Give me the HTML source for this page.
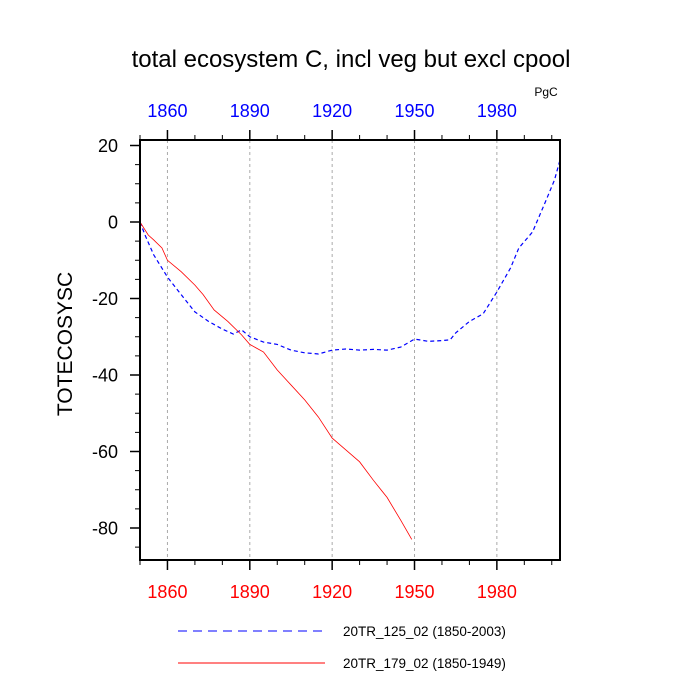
<!DOCTYPE html>
<html><head><meta charset="utf-8"><style>
body{margin:0;background:#fff}
svg{display:block;font-family:"Liberation Sans",sans-serif}
</style></head><body>
<svg id="c" width="700" height="700">
<text x="351" y="67" font-size="24" text-anchor="middle">total ecosystem C, incl veg but excl cpool</text>
<text x="546" y="96" font-size="12" text-anchor="middle">PgC</text>
<text transform="translate(72,344) rotate(-90)" font-size="21" text-anchor="middle">TOTECOSYSC</text>
<g id="grid"></g><g id="axes"></g><g id="series"></g>
<rect x="140" y="140" width="420" height="420" fill="none" stroke="#000" stroke-width="2"/>
<line x1="178" y1="631" x2="325" y2="631" stroke="#0000ff" stroke-dasharray="9,6"/>
<text x="343" y="636" font-size="13.5">20TR_125_02 (1850-2003)</text>
<line x1="178" y1="663" x2="325" y2="663" stroke="#ff0000"/>
<text x="343" y="668" font-size="13.5">20TR_179_02 (1850-1949)</text>
</svg>
<script>
const xTicks=[1860,1890,1920,1950,1980];
const yTicks=[20,0,-20,-40,-60,-80];
const blueYears=[1850,1852,1855,1860,1865,1870,1875,1880,1884,1887,1890,1895,1900,1905,1910,1915,1920,1925,1930,1935,1940,1945,1950,1955,1960,1963,1965,1970,1975,1980,1985,1988,1993,1998,2001,2003];
const blueVals=[0,-3.7,-8.6,-14.4,-19,-23.5,-26,-28,-29.3,-28.2,-30,-31.4,-32,-33.5,-34.2,-34.5,-33.5,-33.2,-33.5,-33.3,-33.5,-32.7,-30.6,-31.2,-31,-30.8,-29,-26,-24,-18.3,-12,-6.8,-2.6,5.8,11,16.2];
const redYears=[1850,1853,1855,1858,1860,1865,1870,1873,1877,1882,1887,1890,1895,1900,1905,1910,1915,1920,1925,1930,1935,1940,1945,1949];
const redVals=[0,-3.4,-4.7,-6.8,-10,-13,-16.5,-19,-23,-26,-29.5,-32,-34,-38.7,-42.6,-46.5,-51,-56.5,-59.6,-62.7,-67.5,-72,-78,-83];
const NS='http://www.w3.org/2000/svg';
const xs=y=>140+(y-1850)*420/153;
const ys=v=>222-v*3.825;
function mk(t,a,p){const e=document.createElementNS(NS,t);for(const k in a)e.setAttribute(k,a[k]);p.appendChild(e);return e;}
const grid=document.getElementById('grid'),axes=document.getElementById('axes'),ser=document.getElementById('series');
xTicks.forEach(t=>{
 const g=mk('line',{x1:xs(t),x2:xs(t),y1:140,y2:560,stroke:'#aaa','stroke-dasharray':'3,3'},grid);
 
 
 mk('line',{x1:xs(t),x2:xs(t),y1:140,y2:130,stroke:'#000','stroke-width':1.5},axes);
 mk('line',{x1:xs(t),x2:xs(t),y1:560,y2:570,stroke:'#000','stroke-width':1.5},axes);
 const a=mk('text',{x:xs(t),y:117,'font-size':18,fill:'#0000ff','text-anchor':'middle'},axes);a.textContent=t;
 
 
 const b=mk('text',{x:xs(t),y:598,'font-size':18,fill:'#ff0000','text-anchor':'middle'},axes);b.textContent=t;
 
 
});
for(let y=1850;y<=2003;y+=10){if(xTicks.includes(y))continue;
 mk('line',{x1:xs(y),x2:xs(y),y1:140,y2:135,stroke:'#000'},axes);
 mk('line',{x1:xs(y),x2:xs(y),y1:560,y2:565,stroke:'#000'},axes);}
yTicks.forEach(t=>{
 mk('line',{x1:140,x2:130,y1:ys(t),y2:ys(t),stroke:'#000','stroke-width':1.5},axes);
 const a=mk('text',{x:118,y:ys(t)+6.5,'font-size':18,'text-anchor':'end'},axes);a.textContent=t;
 
 
});
for(let v=-85;v<=20;v+=5){if(v%20==0)continue;mk('line',{x1:140,x2:135,y1:ys(v),y2:ys(v),stroke:'#000'},axes);}
const bp=mk('polyline',{points:blueYears.map((y,i)=>xs(y)+','+ys(blueVals[i])).join(' '),fill:'none',stroke:'#0000ff','stroke-width':1.2,'stroke-dasharray':'4,3'},ser);


const rp=mk('polyline',{points:redYears.map((y,i)=>xs(y)+','+ys(redVals[i])).join(' '),fill:'none',stroke:'#ff0000','stroke-width':0.8},ser);


</script>
</body></html>
